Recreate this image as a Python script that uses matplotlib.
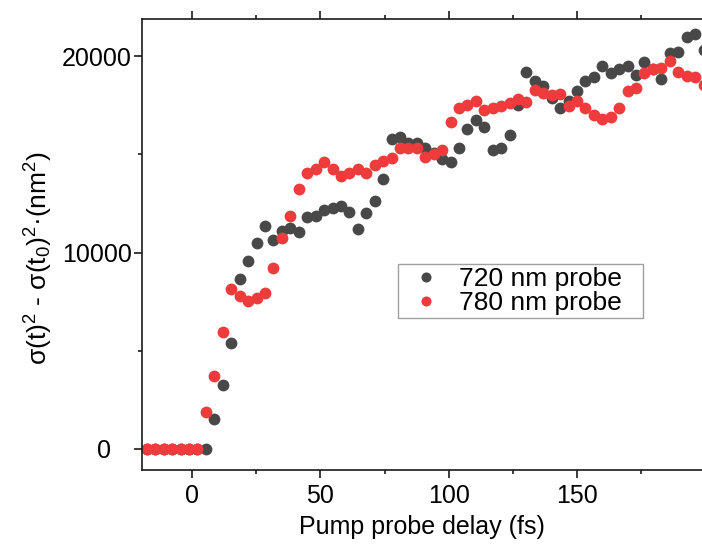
import matplotlib
matplotlib.use("Agg")
import matplotlib.pyplot as plt
from matplotlib.ticker import MultipleLocator, FixedLocator
from matplotlib.transforms import ScaledTranslation

plt.rcParams['font.family'] = ['Liberation Sans', 'DejaVu Sans']
plt.rcParams['mathtext.fontset'] = 'custom'
plt.rcParams['mathtext.rm'] = 'Liberation Sans'
plt.rcParams['mathtext.it'] = 'Liberation Sans'
plt.rcParams['mathtext.default'] = 'regular'

delay_fs = [-17.6, -14.3, -11.0, -7.7, -4.5, -1.2, 2.1, 5.4, 8.7, 12.0,
            15.3, 18.5, 21.8, 25.1, 28.4, 31.7, 35.0, 38.2, 41.5, 44.8,
            48.1, 51.4, 54.7, 58.0, 61.2, 64.5, 67.8, 71.1, 74.4, 77.7,
            80.9, 84.2, 87.5, 90.8, 94.1, 97.4, 100.7, 103.9, 107.2, 110.5,
            113.8, 117.1, 120.4, 123.7, 126.9, 130.2, 133.5, 136.8, 140.1, 143.4,
            146.7, 149.9, 153.2, 156.5, 159.8, 163.1, 166.4, 169.6, 172.9, 176.2,
            179.5, 182.8, 186.1, 189.4, 192.6, 195.9, 199.2]

probe_720 = [0, 0, 0, 0, 0, 0, 0, 0, 1510, 3260,
             5380, 8650, 9590, 10470, 11350, 10640, 11110, 11260, 11060, 11790,
             11880, 12170, 12290, 12380, 12080, 11180, 12030, 12620, 13730, 15760,
             15900, 15560, 15560, 15310, 15050, 14750, 14620, 15310, 16270, 16750,
             16380, 15220, 15310, 15980, 17510, 19170, 18750, 18480, 17850, 17340,
             17710, 18240, 18750, 18950, 19480, 19140, 19370, 19500, 19060, 19690,
             19340, 18850, 20140, 20220, 20960, 21120, 20310]

probe_780 = [0, 0, 0, 0, 0, 0, 0, 1900, 3730, 5940,
             8130, 7800, 7530, 7700, 7930, 9200, 10730, 11860, 13220, 14030,
             14250, 14590, 14250, 13910, 14030, 14240, 14030, 14460, 14680, 14830,
             15310, 15310, 15310, 14850, 15000, 15220, 16660, 17340, 17510, 17710,
             17260, 17370, 17470, 17630, 17800, 17680, 18270, 18110, 18020, 18070,
             17470, 17710, 17340, 17000, 16810, 16910, 17340, 18240, 18400, 19150,
             19350, 19380, 19760, 19180, 19000, 18920, 18530]

labels = ['720 nm probe', '780 nm probe']
colors = ['#484848', '#ef3b3b']
y_major = [0, 10000, 20000]

fig = plt.figure(figsize=(7.02, 5.48), dpi=100)
ax = fig.add_axes([141.5/702, 1-470/548, (702-141.5)/702, (470-19)/548])

ax.plot(delay_fs, probe_720, 'o', color=colors[0], ms=8.5, mew=0, label=labels[0], clip_on=False)
ax.plot(delay_fs, probe_780, 'o', color=colors[1], ms=8.5, mew=0, label=labels[1], clip_on=False)

ax.set_xlim(-19.7, 198.6)
ax.set_ylim(-1070, 21890)

ax.xaxis.set_major_locator(MultipleLocator(50))
ax.xaxis.set_minor_locator(MultipleLocator(25))
ax.yaxis.set_major_locator(FixedLocator(y_major))
ax.yaxis.set_minor_locator(MultipleLocator(5000))

ax.spines['right'].set_visible(False)
for s in ['left', 'top', 'bottom']:
    ax.spines[s].set_linewidth(1.2)
    ax.spines[s].set_color('#1a1a1a')

ax.tick_params(axis='x', which='both', direction='out', top=True, bottom=True,
               labeltop=False, width=1.2, color='#1a1a1a', labelsize=18, pad=4)
ax.tick_params(axis='y', which='both', direction='out', left=True, right=False,
               width=1.2, color='#1a1a1a', labelsize=18, pad=1)
ax.tick_params(which='major', length=6)
ax.tick_params(which='minor', length=3)

ax.set_xlabel('Pump probe delay (fs)', fontsize=18, labelpad=5)
ax.set_ylabel(r'σ(t)$^2$ - σ(t$_0$)$^2$·(nm$^2$)', fontsize=19)
ax.yaxis.set_label_coords(-0.155, 0.47)

# the "0" label sits further left of its tick in the reference
fig.canvas.draw()
t0 = ax.yaxis.get_major_ticks()[0]
t0.label1.set_transform(t0.label1.get_transform() +
                        ScaledTranslation(-21/100, 0, fig.dpi_scale_trans))

leg = ax.legend(loc='lower left', bbox_to_anchor=(0.4576, 0.337, 0.4371, 0.126),
                mode='expand', borderaxespad=0,
                fontsize=19, frameon=True, fancybox=False, handletextpad=0.3,
                handlelength=1.9, borderpad=0.12, labelspacing=0.0, markerscale=0.85)
leg.get_frame().set_edgecolor('#888888')
leg.get_frame().set_linewidth(1.0)

fig.savefig('out.png', dpi=100)
